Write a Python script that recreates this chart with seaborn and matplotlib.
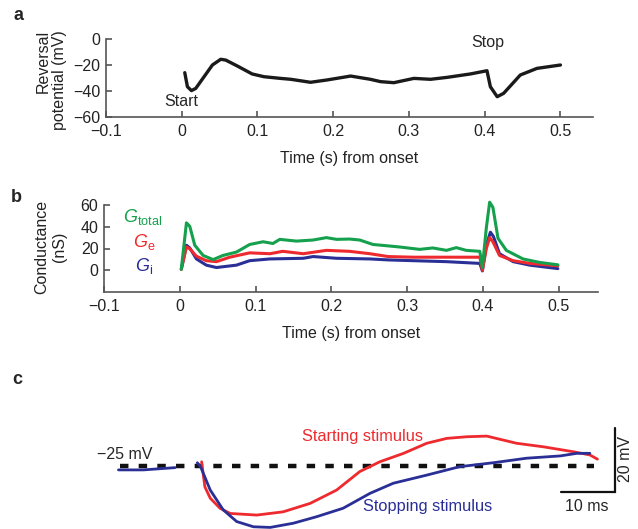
import matplotlib
matplotlib.use('Agg')
import matplotlib.pyplot as plt
import seaborn as sns
import pandas as pd

# ---- panel a: reversal potential (mV) vs time (s) ----
t_a = [0.004, 0.0075, 0.0128, 0.0185, 0.0295, 0.0405, 0.0515, 0.058, 0.0735, 0.093,
       0.1085, 0.1305, 0.144, 0.170, 0.192, 0.223, 0.249, 0.2625, 0.280, 0.3065,
       0.3285, 0.3505, 0.381, 0.403, 0.4075, 0.4165, 0.425, 0.447, 0.469, 0.500]
v_rev = [-25.9, -36.7, -39.7, -38, -29, -20, -15.6, -16.2, -20.8, -26.9,
         -29, -30.3, -31, -33.3, -31.5, -28.5, -31, -32.8, -33.6, -30.3,
         -31, -29.5, -26.9, -24.4, -36.7, -44.4, -41.8, -27.7, -22.6, -20]

# ---- panel b: conductances (nS) ----
t_tot = [0.002, 0.0088, 0.0132, 0.0198, 0.0308, 0.044, 0.057, 0.0748, 0.0923, 0.110,
         0.123, 0.132, 0.154, 0.176, 0.1935, 0.207, 0.224, 0.2375, 0.255, 0.275,
         0.290, 0.3166, 0.334, 0.352, 0.365, 0.378, 0.396, 0.3994, 0.4046, 0.409,
         0.4133, 0.420, 0.431, 0.453, 0.475, 0.499]
g_tot = [0.9, 43.6, 40.4, 23, 13.6, 9.8, 13.6, 16.7, 23.7, 26.2,
         24.6, 28.4, 26.8, 27.8, 30, 28.4, 28.7, 27.8, 23.7, 22.4,
         21.4, 19.2, 20.5, 18.3, 20.8, 18.3, 17.4, 2.5, 38.9, 62.6,
         57.8, 29.4, 18.3, 10.4, 7.2, 5]
t_e = [0.002, 0.0088, 0.0132, 0.022, 0.035, 0.0484, 0.066, 0.0923, 0.119, 0.136,
       0.163, 0.1935, 0.224, 0.251, 0.275, 0.308, 0.352, 0.396, 0.3994, 0.4046,
       0.409, 0.4133, 0.422, 0.440, 0.462, 0.499]
g_e = [0.9, 21.4, 19.8, 12.9, 8.8, 7.9, 12, 16, 15.2, 17.4,
       15.2, 18.3, 17.4, 15.2, 12.6, 12, 12, 12, 0, 19.9,
       30, 26.2, 13.6, 8.8, 6.3, 4.1]
t_i = [0.002, 0.0088, 0.0132, 0.022, 0.035, 0.0484, 0.0748, 0.0923, 0.119, 0.163,
       0.176, 0.207, 0.251, 0.275, 0.308, 0.352, 0.396, 0.3994, 0.4046, 0.410,
       0.414, 0.422, 0.440, 0.462, 0.499]
g_i = [0.9, 23, 20.5, 10.4, 4.7, 2.5, 4.7, 8.8, 10.4, 11,
       12.6, 11, 10.4, 9.5, 8.8, 7.9, 6.3, -0.6, 23, 35,
       31, 15.2, 7.9, 4.7, 1.5]

# ---- panel c: membrane potential (mV), time in ms from stimulus ----
t_start = [0.3, 0.9, 1.9, 3.7, 5.6, 10.5, 15.4, 20.4, 25.3, 29.6, 33.3, 37.7,
           42, 45.7, 49.4, 53.1, 55.6, 58.6, 63.6, 69.1, 72.2, 73.6]
v_start = [-23.7, -31.4, -34.9, -38, -39.6, -40.1, -39.1, -36.5, -32.4, -26.7,
           -23.7, -21.1, -18, -16.5, -16, -15.8, -16.8, -18, -19.1, -20.6, -21.6, -22.9]
t_pre = [-15.1, -10.5, -4.6]
v_pre = [-26.2, -26.2, -25.5]
t_stop = [-0.5, 0.1, 1.9, 4.3, 6.8, 9.9, 13, 17.3, 21.6, 26.5, 31.5, 35.8,
          42, 48.1, 54.3, 60.5, 66.7, 69.8, 72.2]
v_stop = [-24, -25.2, -32.4, -38.5, -42.1, -43.7, -43.9, -42.6, -40.6, -38, -33.4,
          -30.3, -27.8, -25.2, -24, -22.6, -21.9, -21.1, -21.1]
v_ref = -25
t_ref = [-14.8, 73]

GREEN, RED, BLUE = '#14a04c', '#ee2a2e', '#2a2f96'

sns.set_theme(style='ticks')
plt.rcParams['font.family'] = ['Liberation Sans', 'DejaVu Sans']
plt.rcParams['mathtext.fontset'] = 'custom'
plt.rcParams['mathtext.rm'] = 'Liberation Sans'
plt.rcParams['mathtext.it'] = 'Liberation Sans:italic'
FS = 11.5

fig = plt.figure(figsize=(6.38, 5.29), dpi=100)
W, H = 638, 529


def px_axes(left, top, right, bottom):
    return fig.add_axes([left / W, 1 - bottom / H, (right - left) / W, (bottom - top) / H])


def style(ax):
    sns.despine(ax=ax)
    for s in ['left', 'bottom']:
        ax.spines[s].set_color('#555555')
        ax.spines[s].set_linewidth(1.2)
    ax.tick_params(direction='in', length=4, width=1.2, color='#555555',
                   labelsize=FS, labelcolor='#222222')
    ax.tick_params(axis='x', pad=5)
    ax.tick_params(axis='y', pad=4)
    ax.set_xticks([-0.1, 0, 0.1, 0.2, 0.3, 0.4, 0.5])
    ax.set_xticklabels(['\u22120.1', '0', '0.1', '0.2', '0.3', '0.4', '0.5'])
    ax.set_xlabel('Time (s) from onset', fontsize=FS, labelpad=9, color='#222222')


# panel a
ax_a = px_axes(106, 39, 593, 117)
sns.lineplot(x=t_a, y=v_rev, ax=ax_a, color='#1a1a1a', lw=2.4, estimator=None)
ax_a.set_xlim(-0.1, 0.543)
ax_a.set_ylim(-60, 0)
ax_a.set_yticks([0, -20, -40, -60])
ax_a.set_yticklabels(['0', '\u221220', '\u221240', '\u221260'])
style(ax_a)
ax_a.set_ylabel('Reversal\npotential (mV)', fontsize=FS, color='#222222',
                linespacing=1.1, multialignment='right')
ax_a.yaxis.set_label_coords(-0.080, 0.474)
ax_a.text(0.0, -48, 'Start', ha='center', va='center', fontsize=FS)
ax_a.text(0.404, -2.5, 'Stop', ha='center', va='center', fontsize=FS)

# panel b
ax_b = px_axes(104, 205, 598, 292)
df_b = pd.DataFrame({'t': t_i + t_e + t_tot,
                     'g': g_i + g_e + g_tot,
                     'kind': ['i'] * len(t_i) + ['e'] * len(t_e) + ['total'] * len(t_tot)})
sns.lineplot(data=df_b, x='t', y='g', hue='kind', ax=ax_b, estimator=None, lw=2.2,
             palette={'i': BLUE, 'e': RED, 'total': GREEN}, legend=False)
for ln in ax_b.lines:
    ln.set_clip_on(False)
ax_b.set_xlim(-0.1, 0.552)
ax_b.set_ylim(-20, 60)
ax_b.set_yticks([0, 20, 40, 60])
style(ax_b)
ax_b.set_ylabel('Conductance\n(nS)', fontsize=FS, color='#222222', linespacing=1.25)
ax_b.yaxis.set_label_coords(-0.075, 0.517)
ax_b.text(-0.075, 49, r'$G_{\mathrm{total}}$', color=GREEN, fontsize=13, va='center')
ax_b.text(-0.062, 26, r'$G_{\mathrm{e}}$', color=RED, fontsize=13, va='center')
ax_b.text(-0.059, 4, r'$G_{\mathrm{i}}$', color=BLUE, fontsize=13, va='center')

# panel c
ax_c = px_axes(0, 395, 638, 529)
ax_c.set_xlim((0 - 200) / 5.4, (638 - 200) / 5.4)
ax_c.set_ylim(-25 - 63 * 20 / 65, -25 + 71 * 20 / 65)
ax_c.plot(t_ref, [v_ref, v_ref], color='#111111', lw=3.2, dashes=(1.9, 2.3),
          dash_capstyle='butt')
sns.lineplot(x=t_start, y=v_start, ax=ax_c, color=RED, lw=2.0, estimator=None)
sns.lineplot(x=t_stop, y=v_stop, ax=ax_c, color=BLUE, lw=2.0, estimator=None)
sns.lineplot(x=t_pre, y=v_pre, ax=ax_c, color=BLUE, lw=2.0, estimator=None)
# scale bar: 10 ms x 20 mV
bar_t, bar_v = 76.85, -32.9
ax_c.plot([bar_t - 10, bar_t, bar_t], [bar_v, bar_v, bar_v + 19.5], color='#111111',
          lw=1.6, solid_joinstyle='miter')
for ln in ax_c.lines:
    ln.set_clip_on(False)
ax_c.axis('off')
ax_c.text(bar_t - 5.3, bar_v - 4.6, '10 ms', ha='center', va='center', fontsize=FS)
ax_c.text(bar_t + 2.0, bar_v + 10, '20 mV', ha='center', va='center', rotation=90,
          fontsize=FS)
ax_c.text(-13.9, -21.6, '\u221225 mV', ha='center', va='center', fontsize=FS)
ax_c.text(30, -15.8, 'Starting stimulus', color=RED, ha='center', va='center',
          fontsize=11.8)
ax_c.text(42.2, -37.6, 'Stopping stimulus', color=BLUE, ha='center', va='center',
          fontsize=11.8)

# panel letters
for lab, x, y in [('a', 18, 15), ('b', 16, 198), ('c', 17, 380)]:
    fig.text(x / W, 1 - y / H, lab, fontsize=13, fontweight='bold', ha='center',
             va='center')

fig.savefig('out.png', dpi=100)
